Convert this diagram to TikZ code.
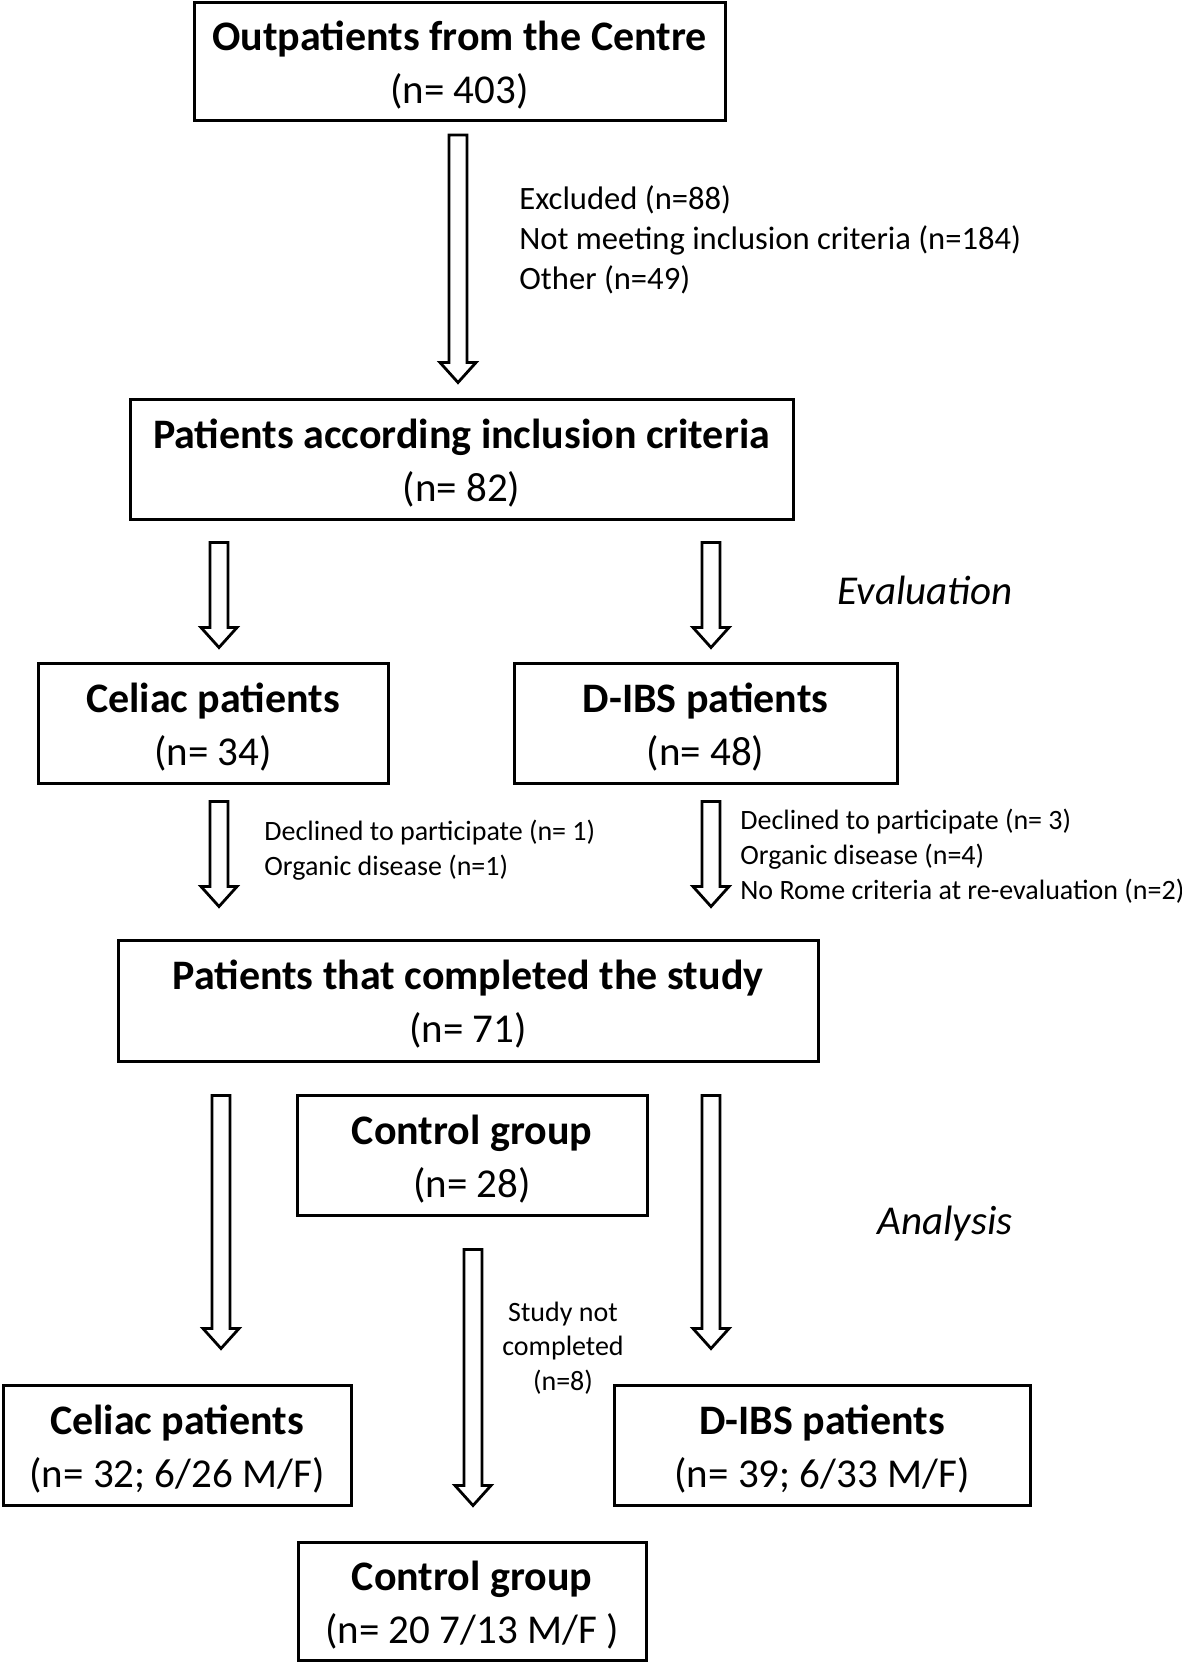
\documentclass[tikz,border=0pt]{standalone}
\usepackage{fontspec}
\setmainfont{Carlito}
\usepackage{tikz}
\usetikzlibrary{calc}

\tikzset{
  flowbox/.style={draw, line width=1.5pt, align=center, inner sep=0pt,
    font=\fontsize{20.5}{26.5}\selectfont},
  notetext/.style={inner sep=0pt, align=left, font=\fontsize{14}{17.5}\selectfont},
  phase/.style={inner sep=0pt, anchor=east, font=\fontsize{20.5}{24}\selectfont\itshape},
  blockarr/.style={draw, line width=1.4pt, fill=white, line join=miter}
}

% two-line box text: bold title, count below
\newcommand\boxtext[2]{\rule{0pt}{20.7pt}\textbf{\fontsize{21}{26.5}\selectfont #1}\\#2\rule[-5pt]{0pt}{5pt}}

% hollow arrow: x, from node, gap, to node, gap
\newcommand\blockarrow[5]{%
  \coordinate (ba-s) at ($(perpendicular cs: horizontal line through={(#2.south)}, vertical line through={(#1,0)})+(0,#3)$);
  \coordinate (ba-e) at ($(perpendicular cs: horizontal line through={(#4.north)}, vertical line through={(#1,0)})+(0,-#5)$);
  \draw[blockarr] ($(ba-s)+(-9,0)$) -- ($(ba-s)+(9,0)$) -- ($(ba-e)+(9,-20)$)
    -- ($(ba-e)+(18,-20)$) -- (ba-e) -- ($(ba-e)+(-18,-20)$)
    -- ($(ba-e)+(-9,-20)$) -- cycle;
}

\begin{document}
\begin{tikzpicture}[x=0.5pt, y=-0.5pt]
  \useasboundingbox (0,0) rectangle (1182,1664);

  % boxes
  \node[flowbox, minimum width=265.5pt, minimum height=59pt] (outpat) at (459.5,61.5)
    {\boxtext{Outpatients from the Centre}{(n= 403)}};
  \node[flowbox, minimum width=331.5pt, minimum height=60pt] (inclcrit) at (461.5,459)
    {\boxtext{Patients according inclusion criteria}{(n= 82)}};
  \node[flowbox, minimum width=175pt, minimum height=60pt] (celiacA) at (213,723)
    {\boxtext{Celiac patients}{(n= 34)}};
  \node[flowbox, minimum width=191.5pt, minimum height=60pt] (dibsA) at (705.5,723)
    {\boxtext{D-IBS patients}{(n= 48)}};
  \node[flowbox, minimum width=350pt, minimum height=60.5pt] (completed) at (468,1000.5)
    {\boxtext{Patients that completed the study}{(n= 71)}};
  \node[flowbox, minimum width=175pt, minimum height=60pt] (controlA) at (472,1155)
    {\boxtext{Control group}{(n= 28)}};
  \node[flowbox, minimum width=174pt, minimum height=60pt] (celiacB) at (177,1445)
    {\boxtext{Celiac patients}{(n= 32; 6/26 M/F)}};
  \node[flowbox, minimum width=208pt, minimum height=60pt] (dibsB) at (822,1445)
    {\boxtext{D-IBS patients}{(n= 39; 6/33 M/F)}};
  \node[flowbox, minimum width=174pt, minimum height=59pt] (controlB) at (472,1601)
    {\boxtext{Control group}{(n= 20 7/13 M/F )}};

  % side notes
  \node[notetext, anchor=west, font=\fontsize{16.3}{20}\selectfont] (excl) at (519,239.5)
    {Excluded (n=88)\\Not meeting inclusion criteria (n=184)\\Other (n=49)};
  \node[notetext, anchor=west] (dropA) at (264,850.5)
    {Declined to participate (n= 1)\\Organic disease (n=1)};
  \node[notetext, anchor=west] (dropB) at (740,856)
    {Declined to participate (n= 3)\\Organic disease (n=4)\\No Rome criteria at re-evaluation (n=2)};
  \node[notetext, align=center, font=\fontsize{14}{17.3}\selectfont] (dropC) at (563,1348)
    {Study not\\completed\\(n=8)};

  \node[phase] (evalph) at (1013,590) {Evaluation};
  \node[phase] (anaph) at (1013,1224) {Analysis};

  % arrows
  \foreach \ax/\src/\ga/\dst/\gb in {458/outpat/13/inclcrit/15,
      219/inclcrit/22/celiacA/14, 711/inclcrit/22/dibsA/14,
      219/celiacA/17/completed/32, 711/dibsA/17/completed/32,
      221/completed/33/celiacB/35, 711/completed/33/dibsB/35,
      473/controlA/33/controlB/35}{
    \blockarrow{\ax}{\src}{\ga}{\dst}{\gb}
  }

\end{tikzpicture}
\end{document}
